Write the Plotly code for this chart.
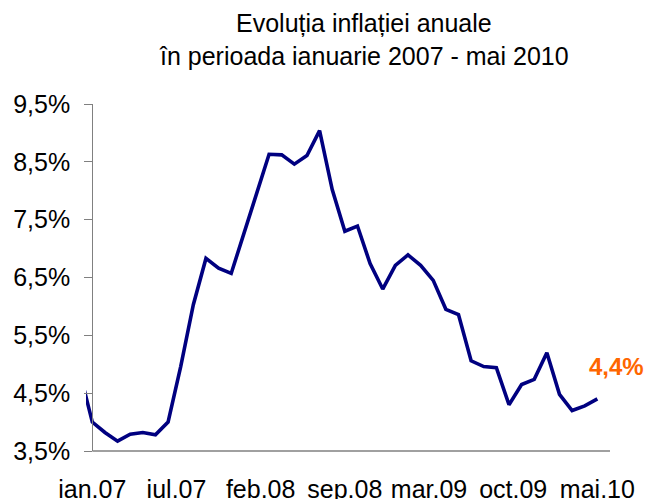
import plotly.graph_objects as go

# Monthly annual inflation (%), dec.06 .. mai.10 (dec.06 only partly visible at left edge)
months = ["dec.06",
          "ian.07", "feb.07", "mar.07", "apr.07", "mai.07", "iun.07", "iul.07", "aug.07", "sep.07", "oct.07", "nov.07", "dec.07",
          "ian.08", "feb.08", "mar.08", "apr.08", "mai.08", "iun.08", "iul.08", "aug.08", "sep.08", "oct.08", "nov.08", "dec.08",
          "ian.09", "feb.09", "mar.09", "apr.09", "mai.09", "iun.09", "iul.09", "aug.09", "sep.09", "oct.09", "nov.09", "dec.09",
          "ian.10", "feb.10", "mar.10", "apr.10", "mai.10"]
inflation = [4.87,
             4.00, 3.82, 3.67, 3.79, 3.82, 3.78, 4.00, 4.96, 6.03, 6.83, 6.66, 6.57,
             7.26, 7.97, 8.63, 8.62, 8.46, 8.61, 9.04, 8.02, 7.30, 7.39, 6.74, 6.30,
             6.71, 6.89, 6.71, 6.45, 5.95, 5.86, 5.06, 4.96, 4.94, 4.30, 4.65, 4.74,
             5.20, 4.48, 4.20, 4.28, 4.40]

x_labels = ["ian.07", "iul.07", "feb.08", "sep.08", "mar.09", "oct.09", "mai.10"]
y_ticks = [3.5, 4.5, 5.5, 6.5, 7.5, 8.5, 9.5]
y_labels = [f"{v:.1f}%".replace(".", ",") for v in y_ticks]

title_lines = ["Evoluția inflației anuale", "în perioada ianuarie 2007 - mai 2010"]

# index positions: jan.07 = 0
xi = list(range(-1, len(months) - 1))
n_last = xi[-1]
x_tickvals = [k * n_last / (len(x_labels) - 1) for k in range(len(x_labels))]

FONT = "Liberation Sans, Arial, sans-serif"
AXIS_GRAY = "#808080"

x_min, x_max = -0.5, n_last + 1
y_axis_pos = (0 - x_min) / (x_max - x_min)

# page body has an 8px margin, so the figure is drawn 8px smaller
W, H = 648, 491
ML, MR, MT, MB = 78, 46, 96, 48
plot_h = H - MT - MB
plot_w = W - ML - MR

fig = go.Figure()
fig.add_trace(go.Scatter(
    x=xi, y=inflation, mode="lines",
    line=dict(color="#000080", width=3.6),
    hoverinfo="skip", showlegend=False,
))

last_label = f"{inflation[-1]:.1f}%".replace(".", ",")
fig.add_annotation(
    x=xi[-1], y=inflation[-1], xref="x", yref="y",
    text=f"<b>{last_label}</b>", showarrow=False,
    font=dict(family=FONT, size=24, color="#FF6600"),
    xanchor="center", yanchor="middle", xshift=19, yshift=32,
)

# title lines
title_centers_px = [15.3, 48.5]
for line, ypx in zip(title_lines, title_centers_px):
    fig.add_annotation(
        x=(356 - ML) / plot_w, y=(H - MB - ypx) / plot_h, xref="paper", yref="paper",
        text=line, showarrow=False, xanchor="center", yanchor="middle",
        font=dict(family=FONT, size=25, color="black"),
    )

# x axis baseline starting at the y axis
fig.add_shape(type="line", xref="paper", yref="paper",
              x0=y_axis_pos, x1=1, y0=0, y1=0,
              line=dict(color=AXIS_GRAY, width=1.3))

fig.update_layout(
    width=W, height=H,
    margin=dict(l=ML, r=MR, t=MT, b=MB, autoexpand=False),
    paper_bgcolor="white", plot_bgcolor="white",
    font=dict(family=FONT, size=25, color="black"),
    xaxis=dict(range=[x_min, x_max], showgrid=False, zeroline=False, showline=False,
               tickvals=x_tickvals, ticktext=x_labels, ticks="",
               ticklabelstandoff=21, tickfont=dict(family=FONT, size=25, color="black")),
    yaxis=dict(range=[3.5, 9.5], anchor="free", position=y_axis_pos,
               showgrid=False, zeroline=False, showline=True, linecolor=AXIS_GRAY, linewidth=1.3,
               tickvals=y_ticks, ticktext=y_labels, ticks="outside", ticklen=8,
               tickcolor=AXIS_GRAY, tickwidth=1.3, ticklabelstandoff=9,
               tickfont=dict(family=FONT, size=25, color="black")),
)

fig.write_html("out.html")
